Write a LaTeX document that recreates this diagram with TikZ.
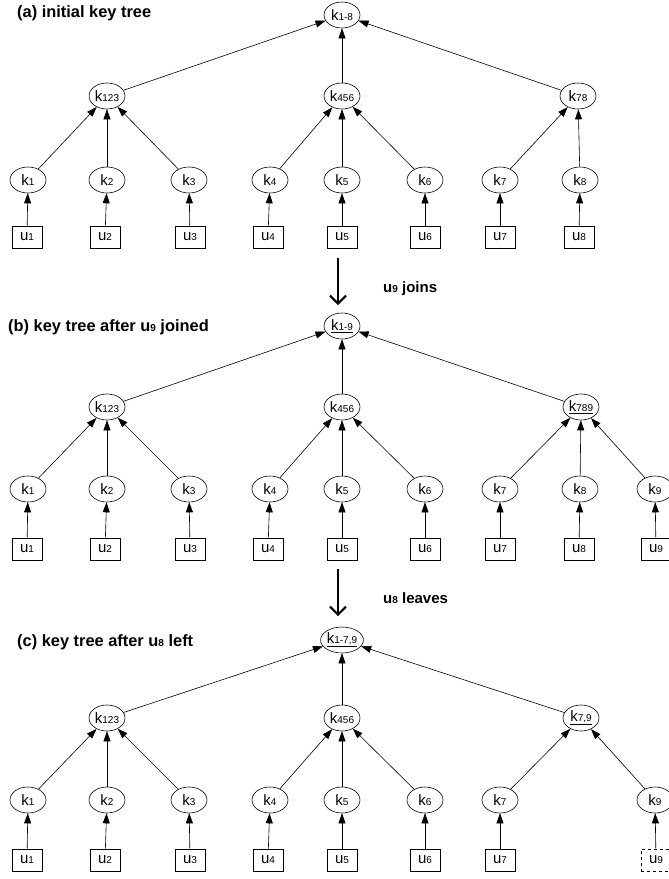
\documentclass[tikz,border=0pt]{standalone}
\usepackage{fontspec}
\setmainfont{Liberation Sans}
\usetikzlibrary{arrows.meta,shapes.geometric}
\newcommand\idx[1]{{\fontsize{10pt}{10pt}\selectfont #1}}
\begin{document}
\begin{tikzpicture}[x=1pt,y=-1pt,
  font=\fontsize{15pt}{15pt}\selectfont,
  knode/.style={ellipse, draw, line width=0.6pt, minimum width=36pt, minimum height=26pt, inner sep=0pt},
  unode/.style={rectangle, draw, line width=0.6pt, minimum width=30pt, minimum height=22pt, inner sep=0pt},
  edge/.style={line width=0.6pt, -{Triangle[length=10pt,width=7pt]}},
  bigarrow/.style={line width=2pt, -{Straight Barb[length=8pt,width=16pt,line width=2pt]}},
  title/.style={anchor=west, font=\fontsize{16.4pt}{16.4pt}\selectfont\bfseries, inner sep=0pt}]
\useasboundingbox (0,0) rectangle (669,879);
\node[title] (ta) at (17,13) {(a) initial key tree};
\node[knode] (aroot) at (342,15) {k\idx{1-8}};
\node[knode] (ak123) at (107,96) {k\idx{123}};
\node[knode] (ak456) at (342,96) {k\idx{456}};
\node[knode] (ak78) at (578,96) {k\idx{78}};
\node[knode] (ak1) at (28,180) {k\idx{1}};
\node[knode] (ak2) at (107,180) {k\idx{2}};
\node[knode] (ak3) at (189,180) {k\idx{3}};
\node[knode] (ak4) at (270,180) {k\idx{4}};
\node[knode] (ak5) at (342,180) {k\idx{5}};
\node[knode] (ak6) at (425,180) {k\idx{6}};
\node[knode] (ak7) at (500,180) {k\idx{7}};
\node[knode] (ak8) at (580,180) {k\idx{8}};
\node[unode] (au1) at (27,237) {u\idx{1}};
\node[unode] (au2) at (105,237) {u\idx{2}};
\node[unode] (au3) at (190,237) {u\idx{3}};
\node[unode] (au4) at (268,237) {u\idx{4}};
\node[unode] (au5) at (342,237) {u\idx{5}};
\node[unode] (au6) at (425,237) {u\idx{6}};
\node[unode] (au7) at (500,237) {u\idx{7}};
\node[unode] (au8) at (579,237) {u\idx{8}};
\draw[edge] (ak123) -- (aroot);
\draw[edge] (ak456) -- (aroot);
\draw[edge] (ak78) -- (aroot);
\draw[edge] (ak1) -- (ak123);
\draw[edge] (ak2) -- (ak123);
\draw[edge] (ak3) -- (ak123);
\draw[edge] (ak4) -- (ak456);
\draw[edge] (ak5) -- (ak456);
\draw[edge] (ak6) -- (ak456);
\draw[edge] (ak7) -- (ak78);
\draw[edge] (ak8) -- (ak78);
\foreach \i in {1,...,8} \draw[edge] (au\i) -- (ak\i);
\coordinate (jtop) at (338,258);
\coordinate (jbot) at (338,305);
\draw[bigarrow] (jtop) -- (jbot);
\node[anchor=west, font=\fontsize{15pt}{15pt}\selectfont\bfseries, inner sep=0pt] (join) at (383,289) {u\idx{9} joins};
\node[title] (tb) at (8,327) {(b) key tree after u\idx{9} joined};
\node[knode] (broot) at (342,326) {\underline{k\idx{1-9}}};
\node[knode] (bk123) at (107,407) {k\idx{123}};
\node[knode] (bk456) at (342,407) {k\idx{456}};
\node[knode] (bk789) at (581,407) {\underline{k\idx{789}}};
\node[knode] (bk1) at (28,489) {k\idx{1}};
\node[knode] (bk2) at (107,489) {k\idx{2}};
\node[knode] (bk3) at (189,489) {k\idx{3}};
\node[knode] (bk4) at (270,489) {k\idx{4}};
\node[knode] (bk5) at (342,489) {k\idx{5}};
\node[knode] (bk6) at (425,489) {k\idx{6}};
\node[knode] (bk7) at (500,489) {k\idx{7}};
\node[knode] (bk8) at (580,489) {k\idx{8}};
\node[knode] (bk9) at (655,489) {k\idx{9}};
\node[unode] (bu1) at (27,549) {u\idx{1}};
\node[unode] (bu2) at (105,549) {u\idx{2}};
\node[unode] (bu3) at (190,549) {u\idx{3}};
\node[unode] (bu4) at (268,549) {u\idx{4}};
\node[unode] (bu5) at (342,549) {u\idx{5}};
\node[unode] (bu6) at (425,549) {u\idx{6}};
\node[unode] (bu7) at (500,549) {u\idx{7}};
\node[unode] (bu8) at (579,549) {u\idx{8}};
\node[unode] (bu9) at (656,549) {u\idx{9}};
\draw[edge] (bk123) -- (broot);
\draw[edge] (bk456) -- (broot);
\draw[edge] (bk789) -- (broot);
\draw[edge] (bk1) -- (bk123);
\draw[edge] (bk2) -- (bk123);
\draw[edge] (bk3) -- (bk123);
\draw[edge] (bk4) -- (bk456);
\draw[edge] (bk5) -- (bk456);
\draw[edge] (bk6) -- (bk456);
\draw[edge] (bk7) -- (bk789);
\draw[edge] (bk8) -- (bk789);
\draw[edge] (bk9) -- (bk789);
\foreach \i in {1,...,9} \draw[edge] (bu\i) -- (bk\i);
\coordinate (ltop) at (338,569);
\coordinate (lbot) at (338,616);
\draw[bigarrow] (ltop) -- (lbot);
\node[anchor=west, font=\fontsize{15pt}{15pt}\selectfont\bfseries, inner sep=0pt] (leave) at (383,598) {u\idx{8} leaves};
\node[title] (tc) at (17,642) {(c) key tree after u\idx{8} left};
\node[knode] (croot) at (342,640) {\underline{k\idx{1-7,9}}};
\node[knode] (ck123) at (107,718) {k\idx{123}};
\node[knode] (ck456) at (342,718) {k\idx{456}};
\node[knode] (ck79) at (581,718) {\underline{k\idx{7,9}}};
\node[knode] (ck1) at (28,800) {k\idx{1}};
\node[knode] (ck2) at (107,800) {k\idx{2}};
\node[knode] (ck3) at (189,800) {k\idx{3}};
\node[knode] (ck4) at (270,800) {k\idx{4}};
\node[knode] (ck5) at (342,800) {k\idx{5}};
\node[knode] (ck6) at (425,800) {k\idx{6}};
\node[knode] (ck7) at (500,800) {k\idx{7}};
\node[knode] (ck9) at (655,800) {k\idx{9}};
\node[unode] (cu1) at (27,860) {u\idx{1}};
\node[unode] (cu2) at (105,860) {u\idx{2}};
\node[unode] (cu3) at (190,860) {u\idx{3}};
\node[unode] (cu4) at (268,860) {u\idx{4}};
\node[unode] (cu5) at (342,860) {u\idx{5}};
\node[unode] (cu6) at (425,860) {u\idx{6}};
\node[unode] (cu7) at (500,860) {u\idx{7}};
\node[unode, dashed] (cu9) at (656,860) {u\idx{9}};
\draw[edge] (ck123) -- (croot);
\draw[edge] (ck456) -- (croot);
\draw[edge] (ck79) -- (croot);
\draw[edge] (ck1) -- (ck123);
\draw[edge] (ck2) -- (ck123);
\draw[edge] (ck3) -- (ck123);
\draw[edge] (ck4) -- (ck456);
\draw[edge] (ck5) -- (ck456);
\draw[edge] (ck6) -- (ck456);
\draw[edge] (ck7) -- (ck79);
\draw[edge] (ck9) -- (ck79);
\foreach \i in {1,...,7,9} \draw[edge] (cu\i) -- (ck\i);
\end{tikzpicture}
\end{document}
